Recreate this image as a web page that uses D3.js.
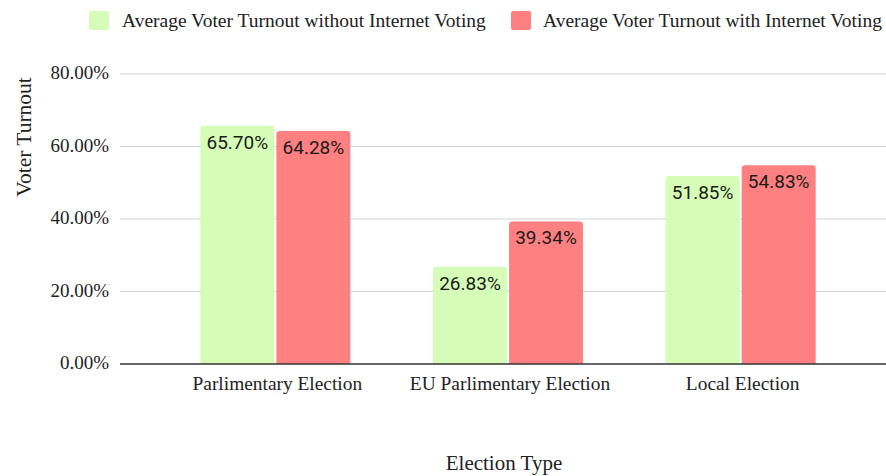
<!DOCTYPE html>
<html>
<head>
<meta charset="utf-8">
<script src="https://cdn.jsdelivr.net/npm/d3@7"></script>
<style>
  html, body { margin: 0; padding: 0; background: #fff; }
  svg { display: block; }
</style>
</head>
<body>
<svg id="chart" width="886" height="476"></svg>
<script>
// Election categories and average turnout (%) per series
const categories = ["Parlimentary Election", "EU Parlimentary Election", "Local Election"];
const seriesNames = ["Average Voter Turnout without Internet Voting", "Average Voter Turnout with Internet Voting"];
const withoutInternet = [65.70, 26.83, 51.85];
const withInternet = [64.28, 39.34, 54.83];
const yTicks = [0, 20, 40, 60, 80];
const colors = ["#d5fdb8", "#ff8080"];

const svg = d3.select("#chart");
const serif = "Liberation Serif, Times New Roman, serif";
const sans = "Roboto, Noto Sans, Arial, sans-serif";

const gridLeft = 120, gridRight = 886;
const y = d3.scaleLinear().domain([0, 80]).range([364, 74]);
const x0 = d3.scaleBand().domain(categories).range([159, 857]).paddingInner(0).paddingOuter(0);
const x1 = d3.scaleBand().domain([0, 1]).range([0, 150]).paddingInner(0.027);

// Horizontal gridlines
svg.append("g").selectAll("line").data(yTicks.filter(t => t > 0)).join("line")
  .attr("x1", gridLeft).attr("x2", gridRight)
  .attr("y1", d => y(d)).attr("y2", d => y(d))
  .attr("stroke", "#d0d0d0").attr("stroke-width", 1);

// Y tick labels
svg.append("g").selectAll("text").data(yTicks).join("text")
  .attr("x", 109).attr("y", d => y(d) + 5)
  .attr("text-anchor", "end")
  .attr("font-family", serif).attr("font-size", 19).attr("fill", "#222")
  .text(d => d3.format(".2f")(d) + "%");

// Bars with rounded top corners
function topRounded(x, yTop, w, h, r) {
  r = Math.min(r, h);
  return `M${x},${yTop + h}V${yTop + r}Q${x},${yTop} ${x + r},${yTop}H${x + w - r}Q${x + w},${yTop} ${x + w},${yTop + r}V${yTop + h}Z`;
}

const rows = categories.map((c, i) => ({ cat: c, vals: [withoutInternet[i], withInternet[i]] }));
const groups = svg.append("g").selectAll("g").data(rows).join("g")
  .attr("transform", d => `translate(${x0(d.cat) + (x0.bandwidth() - 150) / 2},0)`);

groups.selectAll("path").data(d => d.vals.map((v, k) => ({ v, k }))).join("path")
  .attr("d", d => topRounded(x1(d.k), y(d.v), x1.bandwidth(), y(0) - y(d.v), 3))
  .attr("fill", d => colors[d.k]);

groups.selectAll("text").data(d => d.vals.map((v, k) => ({ v, k }))).join("text")
  .attr("x", d => x1(d.k) + x1.bandwidth() / 2)
  .attr("y", d => y(d.v) + 23)
  .attr("text-anchor", "middle")
  .attr("font-family", sans).attr("font-size", 19).attr("fill", "#1a1a1a")
  .text(d => d3.format(".2f")(d.v) + "%");

// Baseline
svg.append("line").attr("x1", gridLeft).attr("x2", gridRight)
  .attr("y1", y(0)).attr("y2", y(0))
  .attr("stroke", "#333").attr("stroke-width", 1.5);

// Category labels
svg.append("g").selectAll("text").data(categories).join("text")
  .attr("x", d => x0(d) + x0.bandwidth() / 2 + 2).attr("y", 390)
  .attr("text-anchor", "middle")
  .attr("font-family", serif).attr("font-size", 19.4).attr("fill", "#222")
  .text(d => d);

// Axis titles
svg.append("text").attr("x", 504).attr("y", 470).attr("text-anchor", "middle")
  .attr("font-family", serif).attr("font-size", 21).attr("fill", "#222")
  .text("Election Type");
svg.append("text").attr("transform", "translate(31,137) rotate(-90)").attr("text-anchor", "middle")
  .attr("font-family", serif).attr("font-size", 21.5).attr("fill", "#222")
  .text("Voter Turnout");

// Legend
const legendItems = [{ x: 89, tx: 122 }, { x: 511, tx: 543 }];
const lg = svg.append("g").selectAll("g").data(seriesNames).join("g");
lg.append("rect").attr("x", (d, i) => legendItems[i].x).attr("y", 11)
  .attr("width", 20).attr("height", 19).attr("rx", 2)
  .attr("fill", (d, i) => colors[i]);
lg.append("text").attr("x", (d, i) => legendItems[i].tx).attr("y", 27)
  .attr("font-family", serif).attr("font-size", 19.5).attr("fill", "#222")
  .text(d => d);
</script>
</body>
</html>
